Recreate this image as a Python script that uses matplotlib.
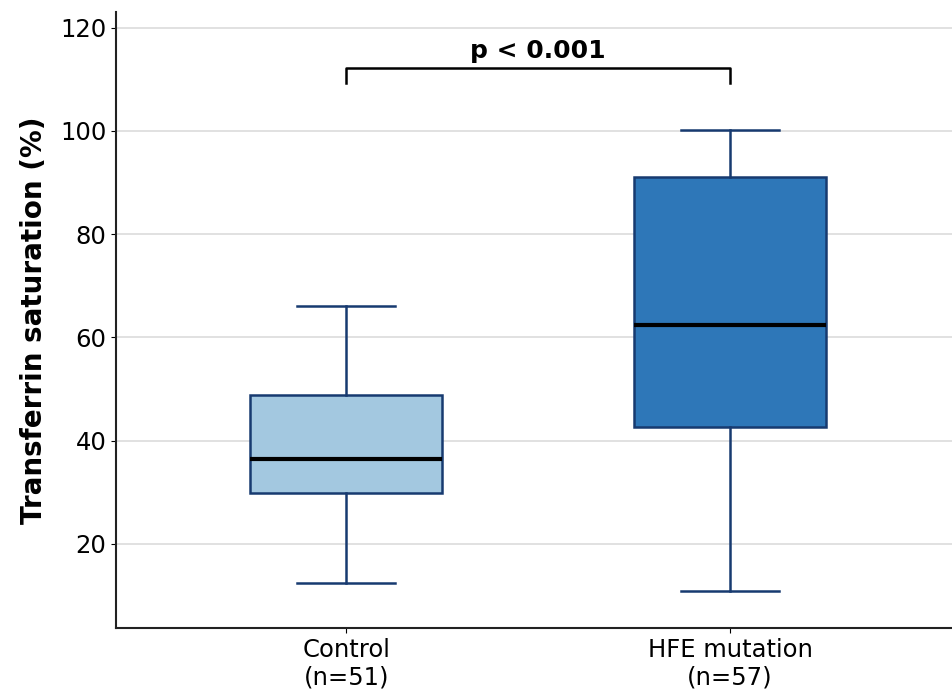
import matplotlib
matplotlib.use("Agg")
import matplotlib.pyplot as plt

categories = ["Control\n(n=51)", "HFE mutation\n(n=57)"]
whislo = [12.4, 10.8]
q1 = [29.9, 42.6]
med = [36.5, 62.3]
q3 = [48.8, 91.1]
whishi = [66.1, 100.2]
colors = ["#a3c8e0", "#2e77b8"]
p_text = "p < 0.001"

fig = plt.figure(figsize=(9.53, 6.95), dpi=100)
ax = fig.add_axes([0.1217, 0.0964, 0.878, 0.8863])

stats = []
for i in range(len(categories)):
    stats.append(dict(whislo=whislo[i], q1=q1[i], med=med[i], q3=q3[i],
                      whishi=whishi[i], fliers=[], label=categories[i]))

edge = "#173a70"
bp = ax.bxp(stats, positions=[0, 1], widths=0.5, patch_artist=True,
            showfliers=False, capwidths=0.256,
            boxprops=dict(edgecolor=edge, linewidth=1.8),
            whiskerprops=dict(color=edge, linewidth=1.8),
            capprops=dict(color=edge, linewidth=1.8),
            medianprops=dict(color="black", linewidth=3))
for patch, c in zip(bp["boxes"], colors):
    patch.set_facecolor(c)
    patch.set_zorder(3)
for k in ["whiskers", "caps", "medians"]:
    for l in bp[k]:
        l.set_zorder(4)

ax.set_xlim(-0.6, 1.58)
ax.set_ylim(3.7, 123.0)
ax.set_yticks([20, 40, 60, 80, 100, 120])
ax.yaxis.grid(True, color="#dcdcdc", linewidth=1.2, zorder=0)
ax.set_axisbelow(True)
ax.set_xticks([0, 1])
ax.set_xticklabels(categories, fontsize=17.5)
ax.tick_params(axis="y", labelsize=17.5)
ax.set_ylabel("Transferrin saturation (%)", fontsize=20, fontweight="bold")
ax.yaxis.set_label_coords(-0.081, 0.5)
for s in ["top", "right"]:
    ax.spines[s].set_visible(False)
for s in ["left", "bottom"]:
    ax.spines[s].set_linewidth(1.5)
    ax.spines[s].set_color("#222222")

# significance bracket
yb, h = 112.2, 3.0
ax.plot([0, 0, 1, 1], [yb - h, yb, yb, yb - h], color="black", linewidth=1.8, zorder=5)
ax.text(0.5, yb + 1.0, p_text, ha="center", va="bottom", fontsize=18, fontweight="bold")

fig.savefig("out.png", dpi=100)
